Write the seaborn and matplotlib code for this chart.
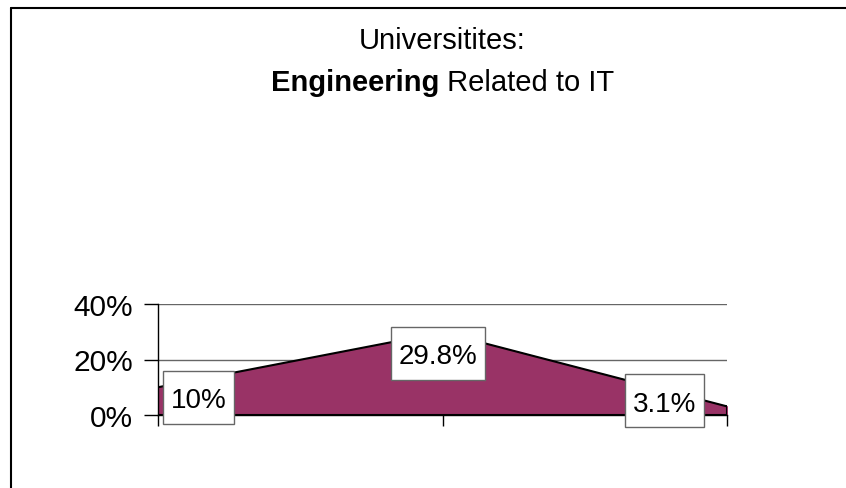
import matplotlib
matplotlib.use("Agg")
import matplotlib.pyplot as plt
import seaborn as sns
import pandas as pd
from matplotlib.lines import Line2D
from matplotlib.patches import Rectangle

# data
points = [0, 1, 2]
shares = [10.0, 29.8, 3.1]
share_labels = ["10%", "29.8%", "3.1%"]
# where the boxed labels sit (data units, centre of the box)
label_x = [0.142, 0.984, 1.78]
label_y = [6.3, 22.2, 5.2]
y_ticks = [0, 20, 40]
y_tick_labels = ["0%", "20%", "40%"]

sns.set_style("white")
plt.rcParams["font.family"] = ["Liberation Sans", "DejaVu Sans"]
plt.rcParams["text.color"] = "black"
plt.rcParams["ytick.labelcolor"] = "black"

W, H = 846, 489
df = pd.DataFrame({"point": points, "share": shares})

fig = plt.figure(figsize=(W / 100, H / 100), dpi=100)
ax = fig.add_axes([158 / W, 73 / H, 569 / W, 111 / H])

ax.fill_between(df["point"], df["share"], 0, color="#993366", zorder=2)
sns.lineplot(data=df, x="point", y="share", color="black", linewidth=1.5, ax=ax, zorder=3)
ax.plot([points[0], points[-1]], [0, 0], color="black", linewidth=1.5, zorder=3)
ax.plot([points[-1], points[-1]], [0, shares[-1]], color="black", linewidth=1.5, zorder=3)

ax.set_xlim(points[0], points[-1])
ax.set_ylim(0, 40)
ax.set_yticks(y_ticks)
ax.set_yticklabels(y_tick_labels, fontsize=21.5)
ax.set_xticks(points)
ax.set_xticklabels([])
ax.set_xlabel("")
ax.set_ylabel("")
ax.grid(axis="y", color="#666666", linewidth=1)
ax.grid(axis="x", visible=False)
ax.set_axisbelow(True)
for s in ["top", "right"]:
    ax.spines[s].set_visible(False)
ax.spines["left"].set_color("black")
ax.spines["bottom"].set_color("black")
ax.spines["left"].set_linewidth(1)
ax.spines["bottom"].set_linewidth(1)
ax.tick_params(axis="y", length=10, width=1, color="black", pad=8, left=True)
ax.tick_params(axis="x", length=8, width=1, color="black", bottom=True)

# value labels: digits centred on the anchor (baseline pushed down by half the cap height)
fs = 20
label_texts = []
for x, y, lab in zip(label_x, label_y, share_labels):
    t = ax.annotate(lab, (x, y), xytext=(0, -0.716 * fs / 2), textcoords="offset points",
                    fontsize=fs, ha="center", va="baseline", zorder=6,
                    annotation_clip=False, clip_on=False)
    label_texts.append((t, x, y))

# title, second line partly bold
cx = (158 + 727) / 2 / W
fig.text(cx, 1 - 41 / H, "Universitites:", fontsize=21, ha="center", va="center")
fig.canvas.draw()
r = fig.canvas.get_renderer()
t1 = fig.text(0, 1 - 83 / H, "Engineering", fontsize=21, fontweight="bold", ha="left", va="center")
t2 = fig.text(0, 1 - 83 / H, " Related to IT", fontsize=21, ha="left", va="center")
w1 = t1.get_window_extent(r).width / W
w2 = t2.get_window_extent(r).width / W
start = cx - (w1 + w2) / 2
t1.set_x(start)
t2.set_x(start + w1)

# white boxes behind the value labels
box_h = 53
for t, x, y in label_texts:
    bb = t.get_window_extent(r)
    px, py = ax.transData.transform((x, y))
    bw = bb.width + 16
    box = Rectangle((px - bw / 2, py - box_h / 2), bw, box_h,
                    transform=None, facecolor="white", edgecolor="#666666", linewidth=1, zorder=5)
    ax.add_artist(box)
    box.set_clip_on(False)

# frame drawn at top and left of the picture
fig.add_artist(Line2D([11 / W, 11 / W], [0, 1 - 9 / H], color="black", linewidth=1.5))
fig.add_artist(Line2D([11 / W, 1], [1 - 9 / H, 1 - 9 / H], color="black", linewidth=1.5))

fig.savefig("out.png", dpi=100)
